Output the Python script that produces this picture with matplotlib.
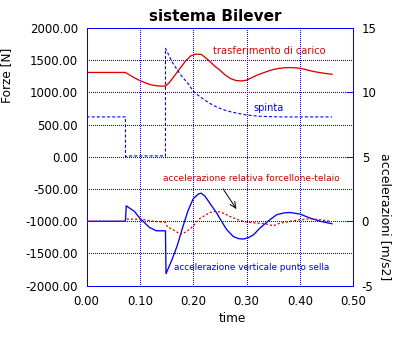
import matplotlib
matplotlib.use("Agg")
import matplotlib.pyplot as plt

plt.rcParams['font.family'] = ['DejaVu Sans']
plt.rcParams['lines.scale_dashes'] = False

# --- data -------------------------------------------------------------
# load transfer [N]
t_carico = [0.0, 0.073, 0.08, 0.09, 0.10, 0.11, 0.12, 0.13, 0.14, 0.148,
            0.155, 0.165, 0.175, 0.185, 0.195, 0.205, 0.215, 0.22, 0.23,
            0.24, 0.25, 0.26, 0.27, 0.28, 0.29, 0.30, 0.31, 0.32, 0.33,
            0.34, 0.35, 0.36, 0.37, 0.38, 0.39, 0.40, 0.41, 0.42, 0.43,
            0.44, 0.45, 0.46]
carico = [1310, 1310, 1275, 1225, 1185, 1150, 1120, 1105, 1098, 1098,
          1150, 1260, 1370, 1480, 1565, 1595, 1590, 1560, 1490,
          1410, 1345, 1270, 1215, 1185, 1178, 1190, 1230, 1270, 1300,
          1330, 1355, 1372, 1382, 1386, 1382, 1374, 1357, 1335, 1318,
          1304, 1292, 1282]

# thrust [N]
t_spinta = [0.0, 0.073, 0.073, 0.085, 0.14, 0.148, 0.148, 0.16, 0.17,
            0.18, 0.19, 0.20, 0.21, 0.22, 0.23, 0.24, 0.25, 0.26, 0.27,
            0.28, 0.29, 0.30, 0.32, 0.34, 0.37, 0.46]
spinta = [620, 620, 5, 15, 15, 10, 1685, 1480, 1350,
          1235, 1140, 1020, 950, 890, 835, 790, 752, 722, 700,
          682, 665, 650, 632, 625, 620, 620]

# saddle-point vertical acceleration [m/s2]
t_sella = [0.0, 0.073, 0.0745, 0.09, 0.0996, 0.106, 0.118, 0.131, 0.148,
           0.149, 0.16, 0.17, 0.18, 0.19, 0.20, 0.21, 0.215, 0.222, 0.231,
           0.244, 0.253, 0.263, 0.275, 0.285, 0.294, 0.303, 0.313, 0.325,
           0.34, 0.356, 0.37, 0.382, 0.40, 0.419, 0.438, 0.454, 0.46]
acc_sella = [0.0, 0.0, 1.2, 0.76, 0.25, 0.0, -0.48, -0.74, -0.74,
             -4.07, -3.0, -1.9, -0.5, 0.8, 1.75, 2.12, 2.18, 1.95, 1.41,
             0.64, 0.0, -0.66, -1.18, -1.35, -1.38, -1.28, -1.05, -0.53,
             0.0, 0.5, 0.65, 0.68, 0.56, 0.25, 0.0, -0.14, -0.19]

# swingarm-frame relative acceleration [m/s2]
t_rel = [0.0, 0.073, 0.075, 0.10, 0.115, 0.125, 0.147, 0.152, 0.16, 0.168,
         0.175, 0.18, 0.187, 0.194, 0.20, 0.212, 0.231, 0.244, 0.256,
         0.269, 0.284, 0.30, 0.319, 0.335, 0.35, 0.363, 0.382, 0.40,
         0.419, 0.438, 0.457]
acc_rel = [0.0, 0.0, 0.17, 0.17, 0.08, 0.0, -0.06, -0.45, -0.6, -0.79,
           -1.0, -0.98, -0.79, -0.6, -0.35, 0.2, 0.68, 0.78, 0.64,
           0.37, 0.12, -0.06, -0.14, -0.19, -0.35, -0.14, 0.0, 0.12,
           0.19, 0.12, 0.0]

x_ticks = [0.0, 0.1, 0.2, 0.3, 0.4, 0.5]
y_left_ticks = [-2000, -1500, -1000, -500, 0, 500, 1000, 1500, 2000]
y_right_ticks = [-5, 0, 5, 10, 15]

# --- styling ----------------------------------------------------------
BLUE = '#0000ff'
RED = '#dd0000'
DARKRED = '#cc0000'
px = 0.72  # one pixel in points at 100 dpi

fig = plt.figure(figsize=(3.97, 3.40), dpi=100)
ax = fig.add_axes([86.5 / 397, 1 - 285.7 / 340, 266.8 / 397, 257.7 / 340])
ax2 = ax.twinx()

ax.set_xlim(0, 0.5)
ax.set_ylim(-2000, 2000)
ax2.set_ylim(-5, 15)

for a in (ax, ax2):
    for s in a.spines.values():
        s.set_color(BLUE)
        s.set_linewidth(px)
        s.set_antialiased(False)

# dotted grid
for gx in x_ticks[1:-1]:
    ax.axvline(gx, color=BLUE, lw=px, dashes=(px, 2 * px), zorder=1,
               antialiased=False)
for gy in y_left_ticks[1:-1]:
    ax.axhline(gy, color=BLUE, lw=px, dashes=(px, 2 * px), zorder=1,
               antialiased=False)

ax.set_xticks(x_ticks)
ax.set_xticklabels([f"{v:.2f}" for v in x_ticks])
ax.set_yticks(y_left_ticks)
ax.set_yticklabels([f"{v:.2f}" for v in y_left_ticks])
ax.tick_params(axis='both', length=0, labelsize=8.5, colors='black')
ax.tick_params(axis='x', pad=7)
ax.tick_params(axis='y', pad=6)

ax2.set_yticks(y_right_ticks)
ax2.set_yticklabels([str(v) for v in y_right_ticks])
ax2.tick_params(axis='y', direction='in', length=5, width=px,
                color=BLUE, labelcolor='black', labelsize=8.5, pad=6)

# curves
ax.plot(t_carico, carico, color=RED, lw=0.95, zorder=3)
ax.plot(t_spinta, spinta, color=BLUE, lw=0.8, dashes=(2.2, 1.5), zorder=3)
ax2.plot(t_sella, acc_sella, color=BLUE, lw=0.95, zorder=3)
ax2.plot(t_rel, acc_rel, color=DARKRED, lw=0.9, dashes=(1.5, 1.5), zorder=4)

# labels on the curves
ax.text(0.3425, 1597, "trasferimento di carico", color=RED, fontsize=7.1,
        ha='center', va='baseline')
ax.text(0.341, 713, "spinta", color=BLUE, fontsize=7.0,
        ha='center', va='baseline')
ax2.text(0.309, 3.14, "accelerazione relativa forcellone-telaio",
         color=DARKRED, fontsize=6.5, ha='center', va='baseline')
ax2.text(0.3096, -3.8, "accelerazione verticale punto sella",
         color=BLUE, fontsize=6.4, ha='center', va='baseline')
ax2.annotate("", xy=(0.284, 0.76), xytext=(0.253, 2.7),
             arrowprops=dict(arrowstyle='->,head_length=0.45,head_width=0.2',
                             color='black', lw=0.7))

# axis titles
ax.set_ylabel("Forze [N]", fontsize=8.7)
ax.yaxis.set_label_coords(-0.2755, 0.8176)
ax2.set_ylabel("accelerazioni [m/s2]", fontsize=9, rotation=270,
               va='center', ha='center')
ax2.yaxis.set_label_coords(1.119, 0.2685)
ax.set_xlabel("time", fontsize=8.7)
ax.xaxis.set_label_coords(0.548, -0.102)

fig.text(215 / 397, 1 - 21 / 340, "sistema Bilever", fontsize=11,
         fontweight='bold', ha='center', va='baseline')

fig.savefig("out.png", dpi=100)
